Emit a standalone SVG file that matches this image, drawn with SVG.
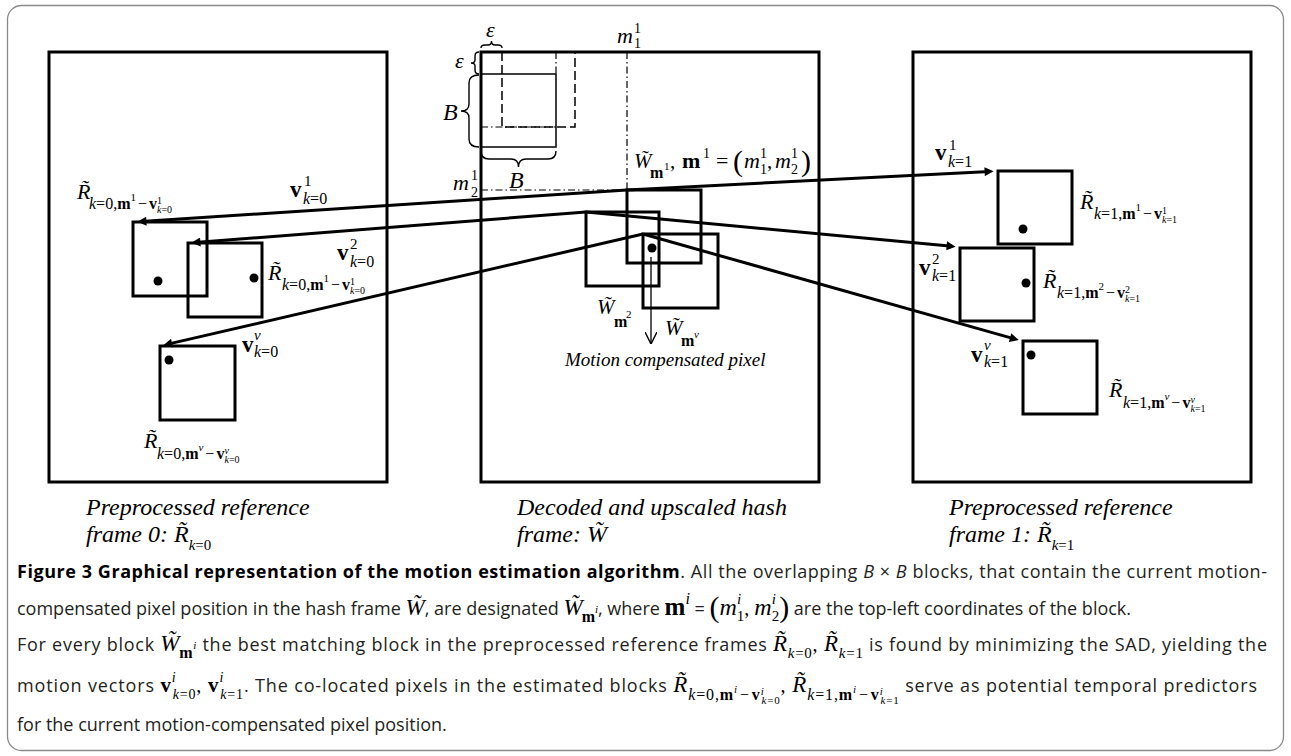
<svg xmlns="http://www.w3.org/2000/svg" width="1291" height="756" viewBox="0 0 1291 756">
<defs>
<style>
.frame{fill:none;stroke:#000;stroke-width:3}
.blk{fill:none;stroke:#000;stroke-width:3}
.thin{fill:none;stroke:#000;stroke-width:1.5}
.dash{fill:none;stroke:#000;stroke-width:1.5;stroke-dasharray:9 4}
.dd{fill:none;stroke:#000;stroke-width:1.2;stroke-dasharray:7 3 1.5 3}
.brace{fill:none;stroke:#000;stroke-width:1.4}
.vec{fill:none;stroke:#000;stroke-width:3;marker-end:url(#ah)}
.dot{fill:#000}
.t{font-family:"Liberation Serif","Times New Roman",serif;fill:#000}
.i{font-style:italic}
.bd{font-weight:bold;font-style:normal}
.up{font-style:normal}
.cap{font-family:"Open Sans","Liberation Sans",sans-serif;font-size:18px;fill:#231f20}
</style>
<marker id="ah" viewBox="0 0 10 10" refX="6" refY="5" markerUnits="userSpaceOnUse" markerWidth="17" markerHeight="9" orient="auto"><path d="M0,0L10,5L0,10z" fill="#000"/></marker>
<marker id="oh" viewBox="0 0 10 10" refX="10" refY="5" markerUnits="userSpaceOnUse" markerWidth="12" markerHeight="12" orient="auto"><path d="M0,0L10,5L0,10" fill="none" stroke="#000" stroke-width="1.2"/></marker>
</defs>

<!-- outer panel -->
<rect x="7.5" y="5.5" width="1276" height="745" rx="14" fill="#fff" stroke="#8a8a8a" stroke-width="1.3"/>

<!-- frame 0 -->
<g id="frame0">
<rect class="frame" x="49" y="52" width="338" height="430"/>
<text class="t i" x="86" y="515" font-size="24">Preprocessed reference</text>
<text class="t i" x="86" y="542" font-size="24">frame 0: R̃<tspan class="up" font-size="15" dy="8"><tspan class="i">k</tspan>=0</tspan></text>
</g>

<!-- decoded hash frame -->
<g id="hashframe">
<rect class="frame" x="481" y="52" width="338" height="430"/>
<text class="t i" x="517" y="515" font-size="24">Decoded and upscaled hash</text>
<text class="t i" x="517" y="542" font-size="24">frame: W̃</text>
</g>

<!-- frame 1 -->
<g id="frame1">
<rect class="frame" x="913" y="52" width="338" height="430"/>
<text class="t i" x="949" y="515" font-size="24">Preprocessed reference</text>
<text class="t i" x="949" y="542" font-size="24">frame 1: R̃<tspan class="up" font-size="15" dy="8"><tspan class="i">k</tspan>=1</tspan></text>
</g>

<!-- block geometry in the hash frame -->
<g id="block-geometry">
<line class="dd" x1="556" y1="52" x2="556" y2="74"/>
<line class="dd" x1="481" y1="127" x2="556" y2="127"/>
<polyline class="dash" points="502,52 502,127 575,127 575,52"/>
<rect class="thin" x="481" y="74" width="75" height="73"/>
<path class="brace" d="M481,48 Q481,45 485,45 L488,45 Q491.5,45 491.5,41 Q491.5,45 495,45 L498,45 Q502,45 502,48"/>
<path class="brace" d="M479,52 Q475,52 475,56 L475,60 Q475,63 471,63 Q475,63 475,66 L475,70 Q475,74 479,74"/>
<path class="brace" d="M479,75 Q469,75 469,83 L469,104 Q469,111 461,111 Q469,111 469,118 L469,139 Q469,147 479,147"/>
<path class="brace" d="M481,151 Q481,159 489,159 L511,159 Q518.5,159 518.5,167 Q518.5,159 526,159 L548,159 Q556,159 556,151"/>
<text class="t i" x="486" y="37" font-size="22">ε</text>
<text class="t i" x="455" y="68" font-size="22">ε</text>
<text class="t i" x="443" y="120" font-size="24">B</text>
<text class="t i" x="509" y="188" font-size="24">B</text>
<line class="dd" x1="627" y1="52" x2="627" y2="190"/>
<line class="dd" x1="481" y1="190" x2="627" y2="190"/>
<text class="t" font-size="14"><tspan class="i" x="617" y="43" font-size="22">m</tspan><tspan x="634" y="33">1</tspan><tspan x="634" y="48">1</tspan></text>
<text class="t" font-size="14"><tspan class="i" x="453" y="190" font-size="22">m</tspan><tspan x="471" y="180">1</tspan><tspan x="471" y="197">2</tspan></text>
</g>

<!-- candidate blocks in the hash frame -->
<g id="W-m1">
<rect class="blk" x="627" y="190" width="74" height="73"/>
<text class="t" font-size="22"><tspan class="i" x="634" y="168" font-size="21">W̃</tspan><tspan class="bd" x="650" y="178" font-size="16">m</tspan><tspan x="664" y="170" font-size="11">1</tspan><tspan x="670" y="168" font-size="21">,</tspan><tspan class="bd" x="682" y="168">m</tspan><tspan x="703" y="158" font-size="14">1</tspan><tspan x="716" y="168">=</tspan><tspan x="733" y="171" font-size="30">(</tspan><tspan class="i" x="744" y="168">m</tspan><tspan x="760" y="158" font-size="14">1</tspan><tspan x="760" y="174" font-size="14">1</tspan><tspan x="767" y="168" font-size="21">,</tspan><tspan class="i" x="775" y="168">m</tspan><tspan x="791" y="158" font-size="14">1</tspan><tspan x="791" y="174" font-size="14">2</tspan><tspan x="801" y="171" font-size="30">)</tspan></text>
</g>
<g id="W-m2">
<rect class="blk" x="586" y="212" width="73" height="74"/>
<text class="t" font-size="21"><tspan class="i" x="597" y="314">W̃</tspan><tspan class="bd" x="614" y="327" font-size="16">m</tspan><tspan x="626" y="318" font-size="11">2</tspan></text>
</g>
<g id="W-mv">
<rect class="blk" x="643" y="234" width="75" height="74"/>
<text class="t" font-size="21"><tspan class="i" x="665" y="335">W̃</tspan><tspan class="bd" x="681" y="346" font-size="16">m</tspan><tspan class="i" x="694" y="338" font-size="11">v</tspan></text>
</g>
<g id="pixel">
<circle class="dot" cx="652" cy="248" r="4.5"/>
<line x1="651" y1="257" x2="651" y2="344" stroke="#000" stroke-width="1.3" marker-end="url(#oh)"/>
<text class="t i" x="565" y="366" font-size="19">Motion compensated pixel</text>
</g>

<!-- matched blocks, frame 0 -->
<g id="R0-1">
<rect class="blk" x="133" y="222" width="74" height="74"/>
<circle class="dot" cx="158" cy="281" r="4.5"/>
<text class="t" font-size="16"><tspan class="i" x="77" y="199" font-size="22">R̃</tspan><tspan x="89" y="209"><tspan class="i">k</tspan>=0,<tspan class="bd">m</tspan><tspan font-size="11" dy="-8">1</tspan><tspan dy="8" dx="2">−</tspan><tspan dx="2" class="bd">v</tspan><tspan font-size="10" dy="-5">1</tspan><tspan font-size="10" dx="-5" dy="9"><tspan class="i">k</tspan>=0</tspan></tspan></text>
</g>
<g id="R0-2">
<rect class="blk" x="188" y="243" width="74" height="74"/>
<circle class="dot" cx="254" cy="278" r="4.5"/>
<text class="t" font-size="16"><tspan class="i" x="268" y="280" font-size="22">R̃</tspan><tspan x="282" y="290"><tspan class="i">k</tspan>=0,<tspan class="bd">m</tspan><tspan font-size="11" dy="-8">1</tspan><tspan dy="8" dx="2">−</tspan><tspan dx="2" class="bd">v</tspan><tspan font-size="10" dy="-5">1</tspan><tspan font-size="10" dx="-5" dy="9"><tspan class="i">k</tspan>=0</tspan></tspan></text>
</g>
<g id="R0-v">
<rect class="blk" x="160" y="346" width="75" height="74"/>
<circle class="dot" cx="169" cy="360" r="4.5"/>
<text class="t" font-size="16"><tspan class="i" x="144" y="448" font-size="22">R̃</tspan><tspan x="157" y="459"><tspan class="i">k</tspan>=0,<tspan class="bd">m</tspan><tspan font-size="11" class="i" dy="-8">v</tspan><tspan dy="8" dx="2">−</tspan><tspan dx="2" class="bd">v</tspan><tspan font-size="10" class="i" dy="-5">v</tspan><tspan font-size="10" dx="-4.4" dy="9"><tspan class="i">k</tspan>=0</tspan></tspan></text>
</g>

<!-- matched blocks, frame 1 -->
<g id="R1-1">
<rect class="blk" x="998" y="171" width="74" height="73"/>
<circle class="dot" cx="1023" cy="229" r="4.5"/>
<text class="t" font-size="16"><tspan class="i" x="1080" y="209" font-size="22">R̃</tspan><tspan x="1094" y="219"><tspan class="i">k</tspan>=1,<tspan class="bd">m</tspan><tspan font-size="11" dy="-8">1</tspan><tspan dy="8" dx="2">−</tspan><tspan dx="2" class="bd">v</tspan><tspan font-size="10" dy="-5">1</tspan><tspan font-size="10" dx="-5" dy="9"><tspan class="i">k</tspan>=1</tspan></tspan></text>
</g>
<g id="R1-2">
<rect class="blk" x="960" y="248" width="74" height="73"/>
<circle class="dot" cx="1026" cy="283" r="4.5"/>
<text class="t" font-size="16"><tspan class="i" x="1043" y="288" font-size="22">R̃</tspan><tspan x="1057" y="298"><tspan class="i">k</tspan>=1,<tspan class="bd">m</tspan><tspan font-size="11" dy="-8">2</tspan><tspan dy="8" dx="2">−</tspan><tspan dx="2" class="bd">v</tspan><tspan font-size="10" dy="-5">2</tspan><tspan font-size="10" dx="-5" dy="9"><tspan class="i">k</tspan>=1</tspan></tspan></text>
</g>
<g id="R1-v">
<rect class="blk" x="1023" y="341" width="74" height="73"/>
<circle class="dot" cx="1031" cy="355" r="4.5"/>
<text class="t" font-size="16"><tspan class="i" x="1109" y="397" font-size="22">R̃</tspan><tspan x="1123" y="408"><tspan class="i">k</tspan>=1,<tspan class="bd">m</tspan><tspan font-size="11" class="i" dy="-8">v</tspan><tspan dy="8" dx="2">−</tspan><tspan dx="2" class="bd">v</tspan><tspan font-size="10" class="i" dy="-5">v</tspan><tspan font-size="10" dx="-4.4" dy="9"><tspan class="i">k</tspan>=1</tspan></tspan></text>
</g>

<!-- motion vectors -->
<g id="connectors">
<line class="vec" x1="627" y1="190" x2="141" y2="221.5"/>
<line class="vec" x1="627" y1="190" x2="990" y2="171.4"/>
<line class="vec" x1="586" y1="212" x2="195" y2="242.5"/>
<line class="vec" x1="586" y1="212" x2="952" y2="246.3"/>
<line class="vec" x1="643" y1="234" x2="166.8" y2="344.4"/>
<line class="vec" x1="643" y1="234" x2="1015.3" y2="339.1"/>
<text class="t" font-size="16"><tspan class="bd" x="290" y="197" font-size="23">v</tspan><tspan x="304" y="186" font-size="15">1</tspan><tspan x="303" y="204"><tspan class="i">k</tspan>=0</tspan></text>
<text class="t" font-size="16"><tspan class="bd" x="337" y="260" font-size="23">v</tspan><tspan x="350" y="249" font-size="15">2</tspan><tspan x="350" y="267"><tspan class="i">k</tspan>=0</tspan></text>
<text class="t" font-size="16"><tspan class="bd" x="242" y="352" font-size="23">v</tspan><tspan class="i" x="254" y="340" font-size="15">v</tspan><tspan x="254" y="357"><tspan class="i">k</tspan>=0</tspan></text>
<text class="t" font-size="16"><tspan class="bd" x="935" y="160" font-size="23">v</tspan><tspan x="949" y="150" font-size="15">1</tspan><tspan x="948" y="167"><tspan class="i">k</tspan>=1</tspan></text>
<text class="t" font-size="16"><tspan class="bd" x="919" y="275" font-size="23">v</tspan><tspan x="932" y="264" font-size="15">2</tspan><tspan x="932" y="281"><tspan class="i">k</tspan>=1</tspan></text>
<text class="t" font-size="16"><tspan class="bd" x="971" y="362" font-size="23">v</tspan><tspan class="i" x="984" y="350" font-size="15">v</tspan><tspan x="984" y="367"><tspan class="i">k</tspan>=1</tspan></text>
</g>

<!-- figure caption -->
<g id="caption">
<text class="cap" x="17" y="578" textLength="1250"><tspan font-weight="bold" fill="#000">Figure 3 Graphical representation of the motion estimation algorithm</tspan>. All the overlapping <tspan font-style="italic">B</tspan> × <tspan font-style="italic">B</tspan> blocks, that contain the current motion-</text>

<text class="cap" x="17" y="615">compensated pixel position in the hash frame <tspan class="t i" font-size="23">W̃</tspan>, are designated <tspan class="t i" font-size="23">W̃</tspan><tspan class="t bd" font-size="16" dx="-1" dy="7">m</tspan><tspan class="t i" font-size="11" dy="-9">i</tspan><tspan dy="2">, where </tspan><tspan class="t bd" font-size="25">m</tspan><tspan class="t i" font-size="16" dy="-11">i</tspan><tspan dy="11"> = </tspan><tspan class="t" font-size="30" dy="2">(</tspan><tspan class="t i" font-size="24" dy="-2">m</tspan><tspan class="t i" font-size="15" dy="-11">i</tspan><tspan class="t" font-size="15" dx="-4.2" dy="17">1</tspan><tspan class="t" font-size="20" dy="-6">, </tspan><tspan class="t i" font-size="24">m</tspan><tspan class="t i" font-size="15" dy="-11">i</tspan><tspan class="t" font-size="15" dx="-4.2" dy="17">2</tspan><tspan class="t" font-size="30" dy="-4">)</tspan><tspan dy="-2"> are the top-left coordinates of the block.</tspan></text>

<text class="cap" x="17" y="651" textLength="1250">For every block <tspan class="t i" font-size="23">W̃</tspan><tspan class="t bd" font-size="16" dx="-1" dy="7">m</tspan><tspan class="t i" font-size="11" dy="-9">i</tspan><tspan dy="2"> the best matching block in the preprocessed reference frames </tspan><tspan class="t i" font-size="23">R̃</tspan><tspan class="t up" font-size="15" dy="7"><tspan class="i">k</tspan>=0</tspan><tspan class="t" font-size="20" dy="-7">, </tspan><tspan class="t i" font-size="23">R̃</tspan><tspan class="t up" font-size="15" dy="7"><tspan class="i">k</tspan>=1</tspan><tspan dy="-7"> is found by minimizing the SAD, yielding the</tspan></text>

<text class="cap" x="17" y="692" textLength="1240">motion vectors <tspan class="t bd" font-size="21">v</tspan><tspan class="t i" font-size="14" dy="-10">i</tspan><tspan class="t up" font-size="14" dx="-3.9" dy="17"><tspan class="i">k</tspan>=0</tspan><tspan class="t" font-size="20" dy="-7">, </tspan><tspan class="t bd" font-size="21">v</tspan><tspan class="t i" font-size="14" dy="-10">i</tspan><tspan class="t up" font-size="14" dx="-3.9" dy="17"><tspan class="i">k</tspan>=1</tspan><tspan dy="-7">. The co-located pixels in the estimated blocks </tspan><tspan class="t i" font-size="23">R̃</tspan><tspan class="t up" font-size="16" dy="8"><tspan class="i">k</tspan>=0,<tspan class="bd">m</tspan></tspan><tspan class="t i" font-size="11" dy="-7">i</tspan><tspan class="t up" font-size="16" dx="2" dy="7">−</tspan><tspan class="t bd" font-size="16" dx="2">v</tspan><tspan class="t i" font-size="11" dy="-5">i</tspan><tspan class="t up" font-size="11" dx="-3.1" dy="9"><tspan class="i">k</tspan>=0</tspan><tspan class="t" font-size="20" dy="-12">, </tspan><tspan class="t i" font-size="23">R̃</tspan><tspan class="t up" font-size="16" dy="8"><tspan class="i">k</tspan>=1,<tspan class="bd">m</tspan></tspan><tspan class="t i" font-size="11" dy="-7">i</tspan><tspan class="t up" font-size="16" dx="2" dy="7">−</tspan><tspan class="t bd" font-size="16" dx="2">v</tspan><tspan class="t i" font-size="11" dy="-5">i</tspan><tspan class="t up" font-size="11" dx="-3.1" dy="9"><tspan class="i">k</tspan>=1</tspan><tspan dy="-12"> serve as potential temporal predictors</tspan></text>

<text class="cap" x="17" y="731">for the current motion-compensated pixel position.</text>
</g>
</svg>
